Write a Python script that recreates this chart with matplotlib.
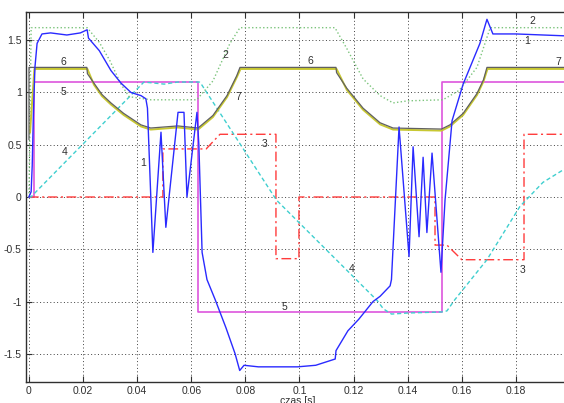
import numpy as np
import matplotlib
matplotlib.use("Agg")
import matplotlib.pyplot as plt

plt.rcParams['font.family'] = ['Liberation Sans', 'DejaVu Sans']

# --- przebiegi (czas w sekundach) ---
# 1: predkosc rzeczywista
t1 = [0, 0.0008, 0.0012, 0.0016, 0.0022, 0.003, 0.0048, 0.008, 0.014, 0.019, 0.0215,
      0.022, 0.026, 0.0303, 0.034, 0.0377, 0.0414, 0.0432, 0.0438, 0.0458, 0.0488,
      0.0506, 0.0551, 0.0573, 0.0584, 0.0621, 0.0628, 0.064, 0.0658, 0.0688, 0.0728,
      0.0762, 0.0779, 0.0795, 0.0848, 0.0993, 0.106, 0.1132, 0.1135, 0.1179, 0.1219,
      0.1272, 0.1298, 0.1335, 0.134, 0.1368, 0.1405, 0.142, 0.1442, 0.1457, 0.1471,
      0.149, 0.1523, 0.1538, 0.1564, 0.1605, 0.1667, 0.1693, 0.1715, 0.18, 0.19, 0.2]
y1 = [0, 0.05, 0.3, 0.76, 1.24, 1.47, 1.56, 1.57, 1.55, 1.57, 1.60,
      1.52, 1.40, 1.21, 1.09, 1.0, 0.97, 0.94, 0.85, -0.53, 0.62,
      -0.29, 0.81, 0.81, 0.0, 0.81, 0.5, -0.53, -0.79, -0.98, -1.25,
      -1.5, -1.66, -1.61, -1.625, -1.625, -1.61, -1.55, -1.47, -1.28, -1.17,
      -1.0, -0.95, -0.85, -0.79, 0.67, -0.57, 0.48, -0.38, 0.38, -0.34,
      0.42, -0.72, -0.03, 0.73, 1.08, 1.47, 1.70, 1.56, 1.56, 1.55, 1.54]

# 2: predkosc zadana (ograniczona)
t2 = [0, 0.0008, 0.0215, 0.026, 0.030, 0.034, 0.037, 0.045, 0.062, 0.068, 0.0743,
      0.078, 0.1131, 0.1175, 0.1235, 0.1298, 0.1346, 0.140, 0.153, 0.159, 0.1656,
      0.1705, 0.2]
y2 = [0, 1.62, 1.62, 1.48, 1.30, 1.08, 0.96, 0.93, 0.93, 1.11, 1.47,
      1.62, 1.62, 1.42, 1.13, 0.97, 0.90, 0.92, 0.93, 1.02, 1.24,
      1.62, 1.62]

# 3: moment obciazenia
t3 = [0, 0.0495, 0.0495, 0.0655, 0.0706, 0.0913, 0.0913, 0.0998, 0.0998, 0.1501,
      0.1501, 0.1545, 0.160, 0.183, 0.183, 0.2]
y3 = [0, 0, 0.46, 0.46, 0.6, 0.6, -0.59, -0.59, 0, 0,
      -0.46, -0.46, -0.6, -0.6, 0.6, 0.6]

# 4: polozenie
t4 = [0, 0.0007, 0.0425, 0.05, 0.055, 0.063, 0.0637, 0.0915, 0.1287, 0.131,
      0.134, 0.140, 0.1525, 0.1545, 0.1575, 0.1693, 0.1815, 0.19, 0.2]
y4 = [0, 0, 1.1, 1.08, 1.1, 1.1, 1.08, -0.03, -0.99, -1.07,
      -1.12, -1.11, -1.1, -1.09, -0.98, -0.6, -0.09, 0.14, 0.30]

# 5: sterowanie
t5 = [0, 0.002, 0.002, 0.0625, 0.0625, 0.1525, 0.1525, 0.2]
y5 = [0, 0, 1.1, 1.1, -1.1, -1.1, 1.1, 1.1]

# 6: strumien zadany
t6 = [0, 0, 0.0214, 0.0216, 0.024, 0.027, 0.0303, 0.035, 0.0414, 0.045, 0.050,
      0.055, 0.0625, 0.068, 0.0732, 0.0768, 0.078, 0.1135, 0.1137, 0.1175, 0.1235,
      0.1298, 0.1346, 0.1525, 0.1556, 0.1605, 0.1656, 0.168, 0.1693, 0.2]
y6 = [0.55, 1.24, 1.24, 1.18, 1.09, 0.98, 0.9, 0.8, 0.69, 0.66, 0.67,
      0.68, 0.66, 0.78, 0.97, 1.16, 1.24, 1.24, 1.19, 1.04, 0.85,
      0.71, 0.66, 0.65, 0.69, 0.80, 0.99, 1.12, 1.24, 1.24]

# 7: strumien rzeczywisty
t7 = [0.0004, 0.002, 0.0216, 0.024, 0.027, 0.0303, 0.035, 0.0414, 0.045, 0.050,
      0.055, 0.0625, 0.068, 0.0732, 0.0768, 0.0782, 0.1137, 0.1175, 0.1235,
      0.1298, 0.1346, 0.1525, 0.1556, 0.1605, 0.1656, 0.168, 0.1695, 0.2]
y7 = [0.62, 1.225, 1.225, 1.075, 0.965, 0.885, 0.785, 0.675, 0.645, 0.655,
      0.665, 0.645, 0.765, 0.955, 1.145, 1.225, 1.225, 1.025, 0.835,
      0.695, 0.645, 0.635, 0.675, 0.785, 0.975, 1.105, 1.225, 1.225]

# numery przebiegow na wykresie
labels = ['1', '1', '2', '2', '3', '3', '4', '4', '5', '5', '6', '6', '7', '7']
lab_t = [0.0421, 0.184, 0.0725, 0.186, 0.0872, 0.1825, 0.0133, 0.1194,
         0.0126, 0.0946, 0.0126, 0.1039, 0.0775, 0.1955]
lab_y = [0.33, 1.49, 1.36, 1.68, 0.51, -0.70, 0.43, -0.69,
         1.00, -1.05, 1.29, 1.30, 0.96, 1.29]

xticks = [0, 0.02, 0.04, 0.06, 0.08, 0.1, 0.12, 0.14, 0.16, 0.18]
xticklabels = ['0', '0.02', '0.04', '0.06', '0.08', '0.1', '0.12', '0.14', '0.16', '0.18']
yticks = [-1.5, -1, -0.5, 0, 0.5, 1, 1.5]
yticklabels = ['-1.5', '-1', '-0.5', '0', '0.5', '1', '1.5']

fig = plt.figure(figsize=(5.64, 4.03), dpi=100)
ax = fig.add_axes([26 / 564, 21 / 403, 544 / 564, 370 / 403])

ax.plot(t5, y5, color='#dd55dd', lw=1.2)
ax.plot(t3, y3, color='#ff3b3b', lw=1.0, linestyle='-.', dashes=(7, 2.5, 1.5, 2.5))
ax.plot(t4, y4, color='#3fcfcf', lw=1.0, linestyle='--', dashes=(3, 2))
ax.plot(t2, y2, color='#7cc47c', lw=1.0, linestyle=':')
ax.plot(t7, y7, color='#c8c832', lw=1.4)
ax.plot(t6, y6, color='#606060', lw=0.9)
ax.plot(t1, y1, color='#2a2aff', lw=1.0)

for s, tx, ty in zip(labels, lab_t, lab_y):
    ax.text(tx, ty, s, fontsize=7.5, color='#303030', ha='center', va='center')

ax.set_xlim(-0.0011, 0.2)
ax.set_ylim(-1.77, 1.77)
ax.set_xticks(xticks)
ax.set_xticklabels(xticklabels)
ax.set_yticks(yticks)
ax.set_yticklabels(yticklabels)
ax.tick_params(direction='in', length=4, width=0.8, labelsize=7.5, colors='#303030',
               top=True, right=True, pad=3)
ax.grid(True, linestyle=(0, (1, 2.5)), color='#404040', lw=0.7)
for sp in ax.spines.values():
    sp.set_color('#303030')
    sp.set_linewidth(1.0)
ax.set_xlabel('czas [s]', fontsize=7.5, color='#303030', labelpad=0)

fig.savefig('out.png', dpi=100)
